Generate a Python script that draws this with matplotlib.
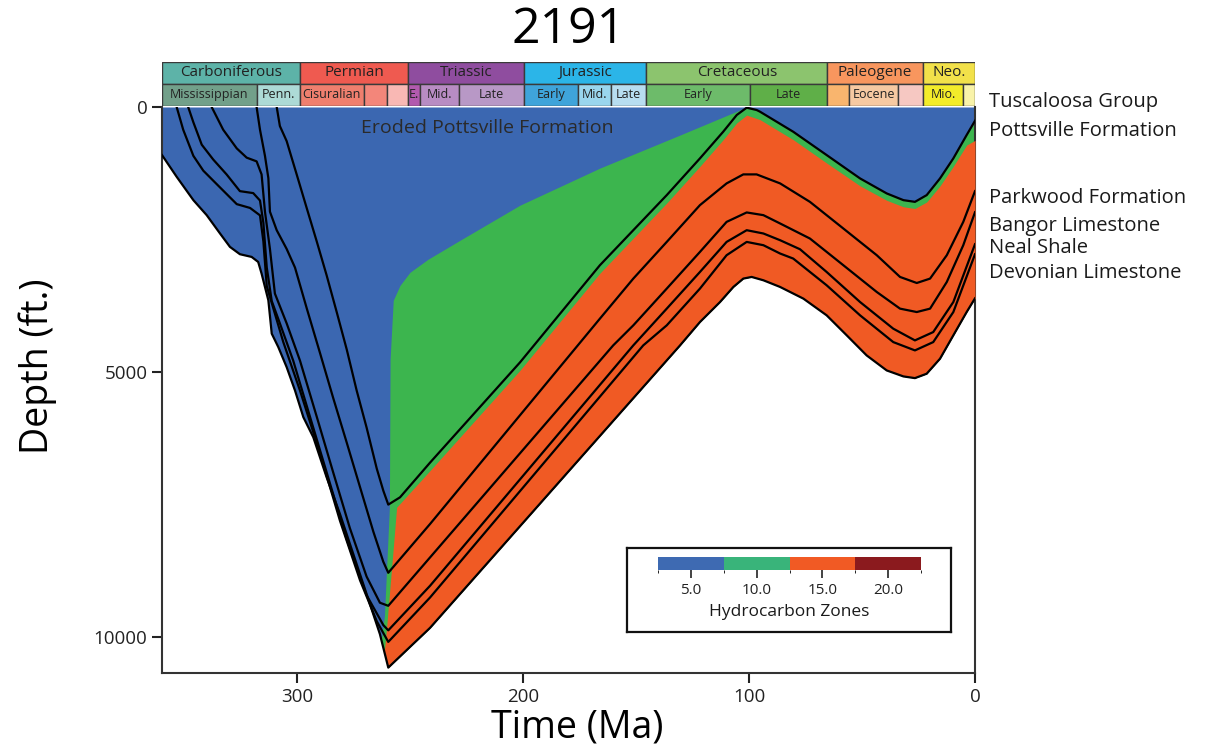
import numpy as np
import matplotlib.pyplot as plt
from matplotlib.colors import ListedColormap, BoundaryNorm
from matplotlib.cm import ScalarMappable
from matplotlib.patches import Rectangle

plt.rcParams['font.family'] = ['Open Sans', 'DejaVu Sans']

# burial curves, time (Ma) vs depth (ft) of each horizon
pottsville_t = [309.2, 307.8, 304.8, 300.4, 295.9, 291.5, 287.1, 282.6, 278.2, 273.8, 269.4, 264.9,
                262.0, 259.8, 254.6, 241.3, 201.5, 166.1, 136.5, 121.8, 111.5, 105.5, 101.1, 96.7,
                95.2, 80.5, 65.7, 50.9, 39.1, 31.7, 26.6, 21.4, 15.5, 9.6, 3.7, 0.0]
pottsville_d = [0, 359, 643, 1266, 1909, 2533, 3175, 3875, 4574, 5349, 6048, 6823,
                7239, 7503, 7365, 6710, 4820, 2986, 1663, 970, 467, 151, 13, 57,
                89, 467, 907, 1348, 1631, 1758, 1790, 1663, 1348, 970, 529, 260]

parkwood_t = [318.1, 316.6, 314.4, 312.9, 312.2, 309.2, 304.8, 301.1, 295.9, 290.0, 284.2, 278.2,
              272.3, 266.4, 262.0, 259.8, 241.3, 166.1, 151.3, 136.5, 121.8, 110.0, 102.6, 96.7,
              86.3, 73.1, 58.3, 43.5, 33.2, 25.8, 19.9, 12.5, 5.2, 0.0]
parkwood_d = [0, 429, 922, 1342, 1975, 2325, 2678, 3030, 3799, 4646, 5489, 6332,
              7174, 8014, 8581, 8789, 7868, 3994, 3238, 2546, 1852, 1442, 1272, 1272,
              1442, 1790, 2293, 2797, 3207, 3321, 3238, 2797, 2168, 1588]

bangor_t = [338.0, 332.9, 326.9, 322.5, 318.1, 315.9, 314.4, 312.2, 310.0, 304.8, 298.9, 291.5,
            284.2, 276.8, 269.4, 263.5, 259.8, 241.3, 160.2, 151.3, 136.5, 121.8, 110.0, 101.1,
            93.7, 86.3, 73.1, 58.3, 43.5, 33.2, 25.8, 19.9, 12.5, 5.2, 0.0]
bangor_d = [0, 429, 781, 956, 1026, 1272, 1975, 2678, 3521, 4082, 4785, 5840,
            6893, 7947, 8860, 9354, 9412, 8499, 4498, 4120, 3427, 2735, 2168, 1990,
            2041, 2198, 2482, 2986, 3491, 3805, 3869, 3805, 3302, 2608, 1985]

neal_t = [348.4, 346.1, 342.4, 337.3, 331.4, 325.5, 319.6, 316.6, 315.1, 313.6, 311.4, 307.8,
          301.9, 294.5, 287.1, 278.2, 269.4, 262.0, 259.8, 241.3, 151.3, 136.5, 121.8, 110.0,
          101.1, 93.7, 86.3, 77.5, 65.7, 50.9, 36.2, 26.6, 18.5, 9.6, 0.0]
neal_d = [0, 289, 711, 992, 1272, 1588, 1625, 1765, 2187, 3030, 3661, 4082,
          4785, 5840, 6893, 8159, 9212, 9775, 9875, 9034, 4498, 3805, 3113, 2546,
          2325, 2387, 2514, 2684, 3113, 3680, 4183, 4404, 4247, 3680, 2589]

devonian_t = [353.5, 350.6, 346.1, 341.7, 335.1, 326.9, 321.0, 316.6, 315.1, 313.6, 310.7, 306.3,
              298.9, 290.0, 281.2, 272.3, 264.9, 259.8, 241.3, 146.9, 136.5, 121.8, 110.0, 101.1,
              93.7, 86.3, 80.5, 65.7, 50.9, 36.2, 26.6, 18.5, 9.6, 0.0]
devonian_d = [0, 429, 922, 1202, 1484, 1833, 1905, 2045, 2538, 3381, 3799, 4434,
              5349, 6539, 7806, 8932, 9703, 10093, 9255, 4498, 4120, 3427, 2797, 2546,
              2608, 2765, 2860, 3364, 3931, 4436, 4593, 4436, 3869, 2778]

base_t = [360.0, 353.5, 346.1, 340.2, 334.3, 329.9, 325.5, 320.3, 317.4, 315.9, 314.4, 312.9,
          311.4, 308.5, 304.8, 301.1, 297.4, 293.0, 287.1, 281.2, 275.3, 269.4, 263.5, 259.8,
          241.3, 130.6, 121.8, 112.9, 107.0, 102.6, 98.9, 93.7, 86.3, 76.0, 65.7, 56.8,
          48.0, 39.1, 31.7, 26.6, 21.4, 15.5, 9.6, 3.7, 0.0]
base_d = [907, 1317, 1758, 2041, 2387, 2640, 2778, 2829, 2924, 3143, 3396, 3648,
          4277, 4530, 4908, 5349, 5853, 6231, 6987, 7679, 8435, 9191, 9947, 10578,
          9828, 4498, 4058, 3680, 3396, 3238, 3207, 3270, 3396, 3616, 3931, 4309,
          4687, 4971, 5084, 5116, 5033, 4750, 4309, 3869, 3610]

# hydrocarbon zone boundaries
zone10_top_t = [100.5, 104.1, 130.6, 166.1, 201.5, 228.0, 242.2, 250.2, 254.6, 257.6, 259.0, 259.3, 261.5, 263.0]
zone10_top_d = [0, 57, 529, 1153, 1853, 2514, 2873, 3119, 3365, 3648, 4764, 7550, 9600, 10100]

zone15_top_t = [0.0, 3.7, 9.6, 15.5, 21.4, 26.6, 31.7, 39.1, 50.9, 65.7, 80.5, 95.2, 101.1,
                105.5, 111.5, 121.8, 136.5, 166.1, 201.5, 241.3, 256.1, 258.3, 260.8, 262.0]
zone15_top_d = [630, 718, 1120, 1490, 1793, 1915, 1883, 1761, 1488, 1057, 617, 239, 153,
                301, 617, 1120, 1813, 3136, 4970, 6860, 7553, 8688, 9947, 10452]

zone_values = [5.0, 10.0, 15.0, 20.0]
zone_colors = ['#3e6ab2', '#39b47a', '#f15a24', '#8b1a1e']

periods = ['Carboniferous', 'Permian', 'Triassic', 'Jurassic', 'Cretaceous', 'Paleogene', 'Neo.']
period_bounds = [360.0, 299.0, 251.0, 199.6, 145.5, 65.5, 23.03, 0.0]
period_colors = ['#5db3a8', '#ef5a50', '#8f4d9f', '#2bb5e8', '#8cc46e', '#f8965e', '#f2e14a']

epochs = ['Mississippian', 'Penn.', 'Cisuralian', '', '', 'E.', 'Mid.', 'Late', 'Early', 'Mid.', 'Late',
          'Early', 'Late', '', 'Eocene', '', 'Mio.', '']
epoch_bounds = [360.0, 318.1, 299.0, 270.6, 260.4, 251.0, 245.9, 228.7, 199.6, 175.6, 161.2,
                145.5, 99.6, 65.5, 55.8, 33.9, 23.03, 5.33, 0.0]
epoch_colors = ['#72a08a', '#addad6', '#ef7f6e', '#f3867a', '#f9b8b4', '#b25aae', '#b88cc3', '#b898c6',
                '#3fa4da', '#9ad6ee', '#b7ddf0', '#6dbb6a', '#5faf48', '#f9b56e', '#f6c9a2', '#f6c8c2',
                '#f3ec2a', '#f9f3a9']

formations = ['Tuscaloosa Group', 'Pottsville Formation', 'Parkwood Formation',
              'Bangor Limestone', 'Neal Shale', 'Devonian Limestone']
formation_label_d = [-95, 454, 1720, 2250, 2665, 3138]

fig = plt.figure(figsize=(12.07, 7.55), dpi=100)
ax = fig.add_axes([0.1342, 0.1086, 0.6736, 0.7497])

tg = np.linspace(0, 360, 3601)
base_i = np.interp(tg, base_t[::-1], base_d[::-1])
potts_i = np.interp(tg, pottsville_t[::-1], pottsville_d[::-1])
z10_i = np.interp(tg, zone10_top_t, zone10_top_d)
z10_i = np.where(tg < 100.5, potts_i, z10_i)
z15_i = np.interp(tg, zone15_top_t, zone15_top_d)

ax.fill_between(tg, 0, base_i, color='#3b67b1', lw=0, zorder=1)
ax.fill_between(tg, z10_i, base_i, where=(z10_i < base_i) & (tg <= 263.0),
                color='#3cb54e', lw=0, zorder=2)
ax.fill_between(tg, z15_i, base_i, where=(z15_i < base_i) & (tg <= 262.0),
                color='#f05a24', lw=0, zorder=3)

for t, d in [(pottsville_t, pottsville_d), (parkwood_t, parkwood_d), (bangor_t, bangor_d),
             (neal_t, neal_d), (devonian_t, devonian_d), (base_t, base_d)]:
    ax.plot(t, d, color='black', lw=1.6, zorder=4, solid_joinstyle='round')

ax.text(216, 400, 'Eroded Pottsville Formation', fontsize=14, color='#2a2a2a',
        ha='center', va='center', zorder=5)

for name, d in zip(formations, formation_label_d):
    ax.text(-6, d, name, fontsize=14.5, color='#1a1a1a', ha='left', va='center', clip_on=False)

ax.set_xlim(360, 0)
ax.set_ylim(10680, 0)
ax.set_xticks([300, 200, 100, 0])
ax.set_yticks([0, 5000, 10000])
ax.tick_params(direction='out', length=7, width=1.5, labelsize=13.5, colors='#222')
ax.spines['top'].set_visible(False)
for s in ['left', 'bottom', 'right']:
    ax.spines[s].set_linewidth(1.5)
    ax.spines[s].set_color('#333')

fig.text(0.471, 0.960, '2191', fontsize=36, ha='center', va='center')
fig.text(0.478, 0.036, 'Time (Ma)', fontsize=27, ha='center', va='center')
fig.text(0.031, 0.515, 'Depth (ft.)', fontsize=27, ha='center', va='center', rotation=90)

# geologic timescale bar
ts = fig.add_axes([0.1342, 0.8596, 0.6736, 0.0583])
ts.set_xlim(360, 0)
ts.set_ylim(0, 2)
ts.axis('off')
for i, name in enumerate(periods):
    a, b = period_bounds[i], period_bounds[i + 1]
    ts.add_patch(Rectangle((b, 1), a - b, 1, facecolor=period_colors[i], edgecolor='#3a3a3a', lw=1))
    ts.text((a + b) / 2, 1.5, name, fontsize=11, ha='center', va='center', color='#222')
for i, name in enumerate(epochs):
    a, b = epoch_bounds[i], epoch_bounds[i + 1]
    ts.add_patch(Rectangle((b, 0), a - b, 1, facecolor=epoch_colors[i], edgecolor='#3a3a3a', lw=1))
    if name:
        ts.text((a + b) / 2, 0.5, name, fontsize=9, ha='center', va='center', color='#222')

# hydrocarbon zone legend
box = fig.add_axes([0.5195, 0.1629, 0.2684, 0.1113])
box.set_xticks([])
box.set_yticks([])
for s in box.spines.values():
    s.set_linewidth(1.6)
    s.set_color('#111')

cax = fig.add_axes([0.5452, 0.2450, 0.2179, 0.0172])
bounds = [v - 2.5 for v in zone_values] + [zone_values[-1] + 2.5]
sm = ScalarMappable(norm=BoundaryNorm(bounds, len(zone_colors)), cmap=ListedColormap(zone_colors))
cb = fig.colorbar(sm, cax=cax, orientation='horizontal', ticks=zone_values)
cb.outline.set_visible(False)
cb.ax.set_xticklabels([f'{v:.1f}' for v in zone_values])
cb.ax.tick_params(length=6, width=1.2, labelsize=11, colors='#222')
fig.text(0.654, 0.1894, 'Hydrocarbon Zones', fontsize=12.5, ha='center', va='center', color='#1a1a1a')

fig.savefig('out.png', dpi=100)
